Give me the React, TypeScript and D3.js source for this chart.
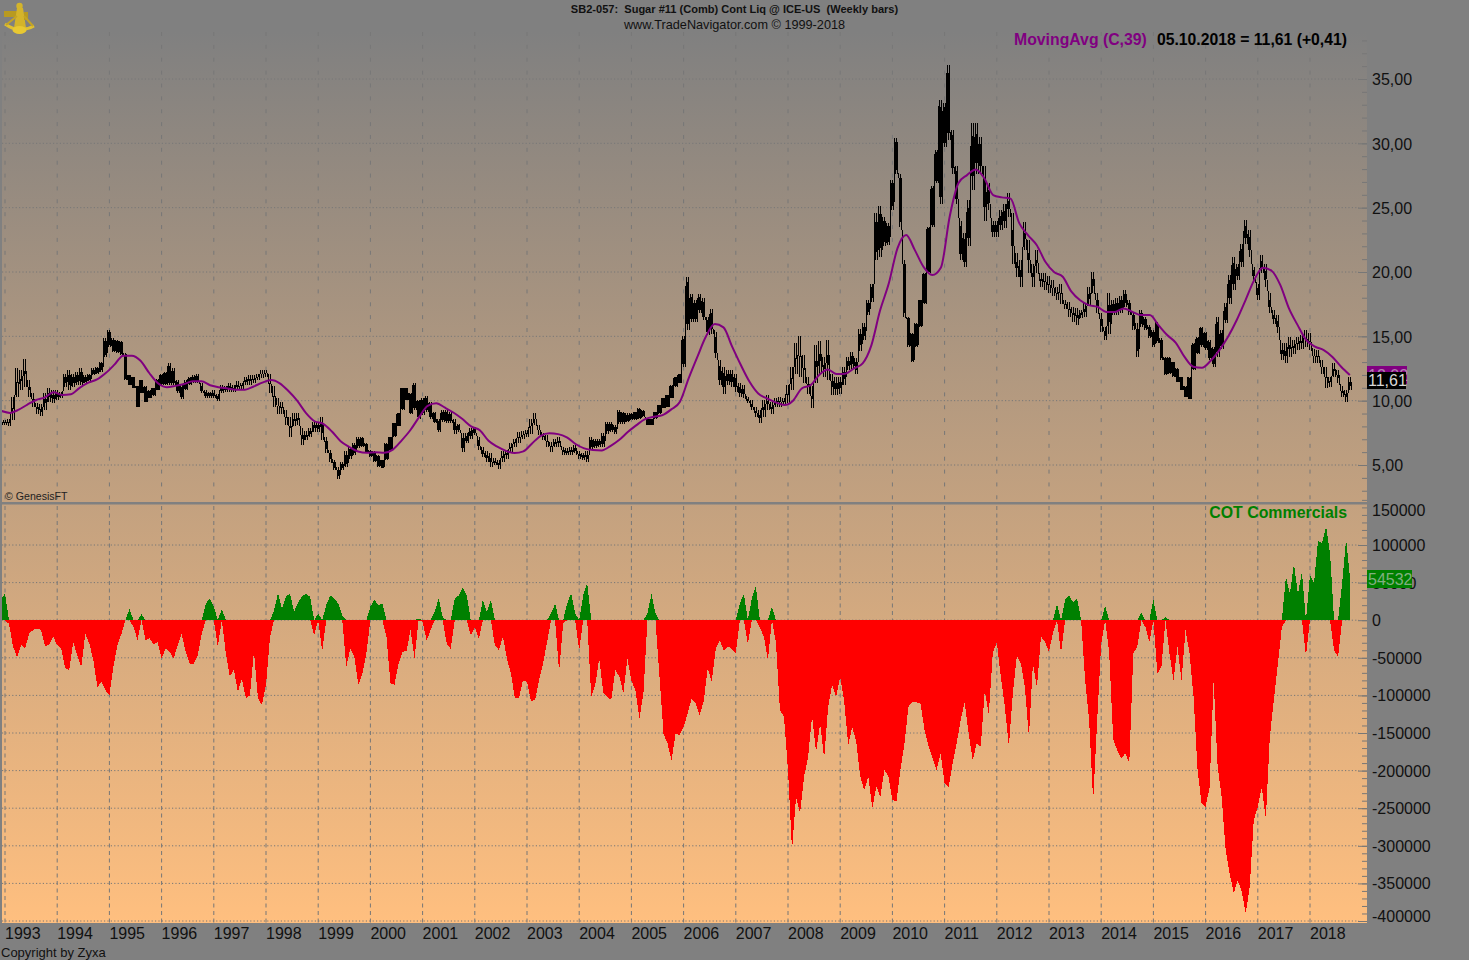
import React, { useEffect, useRef } from 'react'
import * as d3 from 'd3'

const yearLabels = d3.range(1993, 2019)
const priceTicks = [5, 10, 15, 20, 25, 30, 35]
const priceMinorTicks = d3.range(3, 39)
const cotTicks = [150000, 100000, 50000, 0, -50000, -100000, -150000, -200000, -250000, -300000, -350000, -400000]
const cotMinorTicks = d3.range(-400000, 170000, 10000)

// one sample every 4 weeks, first one a bit before jan 1993
const sampleStart = 1992.923
const samplesPerYear = 13

const priceHigh = [
    8.5, 8.5, 8.6, 10.3, 12.5, 12.4, 13.2, 11.6, 10.6, 9.8, 9.7, 10.6, 11.0, 10.8,
    10.8, 10.7, 12.1, 12.4, 12.1, 12.25, 12.5, 12.0, 12.1, 12.5, 12.65, 13.0, 14.85,
    15.5, 14.85, 14.7, 14.6, 13.7, 12.0, 11.85, 11.1, 11.6, 11.1, 10.8, 11.0, 11.7,
    12.1, 12.25, 12.9, 12.5, 11.6, 11.2, 11.6, 11.85, 12.0, 12.1, 11.35, 10.8, 10.7,
    10.8, 10.55, 11.2, 11.1, 11.35, 11.2, 11.5, 11.35, 11.85, 12.0, 12.0, 12.1, 12.4,
    12.4, 12.1, 11.1, 10.2, 9.9, 9.3, 8.75, 9.0, 9.0, 7.85, 7.6, 7.85, 8.35,
    8.35, 8.75, 7.2, 6.15, 5.4, 4.85, 5.25, 6.05, 6.4, 6.7, 7.2, 7.2, 6.7,
    6.15, 6.05, 5.8, 5.4, 6.7, 7.2, 8.25, 9.0, 11.0, 11.0, 10.6, 11.35, 10.05,
    10.2, 10.35, 9.9, 9.15, 8.6, 9.3, 9.3, 9.15, 8.6, 8.2, 7.45, 7.45, 7.85,
    7.95, 7.2, 6.4, 6.05, 5.9, 5.5, 5.4, 6.05, 6.2, 6.7, 7.05, 7.6, 7.6,
    7.7, 8.6, 9.0, 8.1, 7.45, 7.3, 6.8, 7.05, 7.2, 6.4, 6.3, 6.4, 6.55,
    6.05, 5.9, 6.05, 7.2, 7.05, 7.05, 7.45, 8.35, 8.35, 8.1, 9.25, 9.15, 9.0,
    9.0, 9.15, 9.4, 9.25, 8.6, 8.6, 9.15, 9.65, 10.2, 10.45, 11.2, 11.85, 12.1,
    15.0, 19.6, 18.3, 17.8, 18.3, 17.95, 16.5, 17.15, 15.35, 13.15, 12.65, 12.4, 12.4,
    12.1, 11.35, 11.2, 10.3, 10.05, 9.5, 9.25, 10.05, 10.45, 9.9, 10.2, 10.3, 10.2,
    11.2, 12.65, 14.45, 15.0, 13.55, 11.85, 11.1, 14.3, 14.6, 13.4, 14.7, 12.1, 11.85,
    11.85, 12.65, 13.4, 13.8, 13.3, 15.6, 16.0, 17.8, 19.1, 24.55, 25.1, 24.3, 23.8,
    27.15, 30.4, 27.65, 20.9, 16.5, 15.25, 16.0, 17.8, 19.9, 23.5, 26.65, 29.5, 33.4,
    33.1, 36.1, 31.0, 28.2, 24.0, 23.0, 25.6, 31.55, 31.55, 30.5, 28.2, 26.9, 24.0,
    24.0, 24.8, 25.3, 26.1, 24.55, 21.45, 20.9, 23.9, 22.5, 20.65, 21.7, 19.9, 19.9,
    19.65, 19.4, 18.85, 19.1, 17.8, 17.7, 17.3, 17.2, 17.05, 17.55, 18.85, 20.0, 18.35,
    16.8, 15.75, 18.35, 17.8, 17.95, 18.1, 18.6, 17.8, 16.9, 16.0, 17.05, 16.5, 15.9,
    15.5, 16.15, 14.85, 13.4, 13.4, 13.0, 12.5, 11.85, 11.1, 11.85, 14.45, 14.95, 15.75,
    15.35, 14.7, 14.2, 16.5, 15.5, 17.55, 19.75, 21.2, 20.65, 22.2, 24.05, 23.25, 20.4,
    19.1, 21.3, 20.65, 18.35, 17.05, 16.65, 14.45, 14.45, 14.95, 14.7, 14.95, 15.1, 15.5,
    15.25, 14.05, 13.95, 13.15, 12.65, 11.85, 12.9, 12.4, 11.1, 10.85, 11.85,
]

const priceLow = [
    8.1, 8.1, 8.0, 8.5, 10.3, 10.8, 11.1, 10.3, 9.5, 9.0, 8.8, 9.3, 9.9, 9.8,
    10.05, 10.2, 11.1, 10.8, 11.1, 11.2, 11.2, 11.35, 11.5, 12.0, 12.1, 12.25, 13.4,
    14.2, 13.8, 13.7, 13.55, 11.6, 11.2, 11.0, 9.5, 10.6, 9.9, 10.2, 10.4, 10.8,
    11.2, 11.2, 11.2, 11.2, 10.6, 10.1, 10.8, 11.2, 11.35, 11.35, 10.6, 10.2, 10.2,
    10.2, 10.0, 10.6, 10.7, 10.7, 10.7, 10.8, 10.95, 11.2, 11.2, 11.35, 11.6, 11.75,
    11.85, 10.6, 9.5, 9.0, 9.0, 8.1, 7.15, 8.0, 8.1, 6.55, 6.95, 7.2, 7.6,
    7.6, 6.95, 5.9, 5.25, 4.6, 3.9, 4.6, 4.85, 5.5, 5.8, 6.3, 6.4, 5.9,
    5.65, 5.25, 4.85, 4.75, 5.4, 6.15, 7.2, 8.0, 9.3, 10.05, 9.0, 9.3, 8.6,
    8.9, 9.15, 8.6, 8.25, 7.6, 8.35, 8.25, 8.25, 7.45, 7.6, 6.0, 6.7, 7.05,
    7.3, 6.15, 5.65, 5.25, 4.85, 5.0, 4.7, 5.25, 5.5, 6.05, 6.4, 6.7, 7.05,
    7.2, 7.45, 8.1, 7.3, 6.95, 6.4, 6.05, 6.4, 6.4, 5.75, 5.75, 5.75, 5.9,
    5.5, 5.4, 5.2, 6.15, 6.3, 6.4, 6.4, 7.45, 7.6, 7.45, 8.2, 8.2, 8.35,
    8.5, 8.5, 8.6, 8.75, 8.1, 8.1, 8.6, 9.0, 9.4, 9.5, 10.2, 11.1, 11.35,
    12.65, 15.5, 16.1, 16.1, 16.8, 16.25, 15.1, 15.2, 13.3, 11.2, 10.55, 11.2, 11.1,
    10.7, 10.3, 10.2, 9.8, 9.25, 8.75, 8.3, 8.75, 9.25, 9.0, 9.5, 9.5, 9.65,
    9.8, 10.8, 12.1, 11.85, 11.35, 10.55, 9.4, 11.35, 12.1, 11.85, 11.6, 10.45, 10.45,
    10.55, 11.2, 12.4, 12.5, 12.1, 13.9, 14.7, 16.65, 17.7, 20.9, 21.2, 22.0, 22.1,
    24.8, 27.65, 23.5, 16.5, 14.2, 13.0, 14.2, 15.75, 17.55, 19.9, 23.5, 26.9, 25.3,
    29.75, 30.25, 27.65, 25.3, 20.9, 20.4, 22.0, 26.4, 27.65, 27.65, 24.0, 24.8, 22.75,
    22.75, 23.25, 23.4, 24.3, 20.65, 19.65, 18.85, 21.7, 19.9, 18.85, 19.9, 18.85, 18.6,
    18.35, 18.1, 17.8, 17.55, 17.15, 16.5, 16.15, 15.9, 16.4, 16.5, 17.4, 18.35, 16.8,
    15.35, 14.7, 15.2, 16.65, 16.65, 16.8, 17.3, 16.65, 15.5, 13.4, 15.75, 15.5, 14.85,
    14.2, 14.45, 13.15, 12.0, 12.1, 11.85, 11.45, 10.8, 10.3, 10.1, 12.4, 13.65, 14.2,
    13.95, 13.15, 12.65, 13.4, 14.05, 16.0, 17.55, 18.6, 19.4, 20.4, 22.2, 21.2, 19.4,
    17.8, 19.9, 18.85, 16.8, 16.0, 15.25, 13.15, 12.9, 13.4, 13.65, 13.95, 14.05, 14.2,
    13.95, 12.9, 12.9, 12.1, 10.95, 11.1, 11.85, 11.35, 10.3, 9.9, 10.8,
]

// MovingAvg(C,39), one value every 2 months
const maStart = 1992.93
const maPerYear = 6
const movingAvg = [
    9.2, 9.05, 9.3, 9.7, 10.05, 10.25, 10.65, 10.45, 10.5, 11.0, 11.4, 11.65, 12.15, 12.8, 13.5, 13.5,
    13.1, 12.15, 11.35, 11.05, 11.15, 11.3, 11.5, 11.5, 11.2, 11.05, 10.95, 10.85, 10.85, 11.1, 11.4, 11.6,
    11.35, 10.75, 10.0, 9.05, 8.4, 8.2, 7.6, 6.85, 6.4, 6.05, 5.95, 6.0, 5.95, 6.2, 6.9, 7.7,
    8.7, 9.6, 9.8, 9.45, 9.06, 8.57, 8.0, 7.7, 6.88, 6.42, 6.1, 5.93, 6.06, 6.68, 7.27, 7.46,
    7.4, 7.15, 6.63, 6.29, 6.16, 6.13, 6.47, 6.94, 7.56, 8.1, 8.57, 8.75, 8.88, 9.32, 9.92, 11.73,
    13.4, 15.0, 15.95, 15.7, 14.2, 12.77, 11.47, 10.56, 10.17, 9.87, 9.66, 10.0, 10.95, 11.2, 12.0, 12.43,
    12.07, 12.1, 12.5, 12.9, 14.3, 17.0, 19.1, 21.83, 22.87, 21.7, 20.4, 19.76, 20.35, 24.3, 26.9, 27.53,
    27.97, 27.27, 25.98, 25.8, 25.7, 23.8, 22.87, 22.1, 20.8, 20.0, 19.63, 18.47, 17.8, 17.43, 17.3, 16.9,
    16.9, 17.17, 16.9, 16.65, 16.65, 15.87, 15.1, 14.5, 13.4, 12.64, 12.56, 13.1, 13.93, 14.97, 16.27, 17.8,
    19.37, 20.33, 20.1, 19.0, 17.17, 15.87, 14.7, 14.2, 13.93, 13.4, 12.64, 11.99,
]

// COT commercials net position, in thousands of contracts
const cotThousands = [
    29, 35, -5, -35, -49, -33, -38, -18, -13, -11, -13, -35, -32, -22,
    -33, -38, -64, -66, -29, -47, -62, -18, -31, -53, -89, -82, -93,
    -100, -62, -33, -18, 0, 15, -9, -26, 8, -27, -24, -32, -29,
    -51, -38, -42, -51, -33, -18, -42, -58, -58, -47, -18, 22, 29,
    18, -35, 15, -44, -75, -66, -95, -78, -104, -100, -42, -104, -113,
    -86, -22, 13, 36, 15, 32, 35, 11, 24, 32, 35, 31, -20,
    9, -41, 20, 33, 29, 22, 6, -62, -38, -49, -86, -71, -44,
    18, 27, 20, 22, -22, -84, -86, -58, -42, -41, -13, -51, 2,
    -2, -27, -13, 11, 29, 4, -31, -38, 29, 33, 43, 33, -20,
    -9, -25, 27, 11, 27, -33, -40, -22, -51, -71, -104, -104, -80,
    -82, -108, -106, -80, -58, -29, 9, 22, -69, -4, 22, 36, 9,
    -40, 33, 49, -102, -86, -51, -97, -102, -106, -66, -75, -97, -51,
    -80, -93, -131, -97, 9, 35, 9, -75, -151, -164, -186, -151, -153,
    -142, -124, -104, -111, -126, -108, -64, -82, -38, -27, -40, -35, -38,
    -44, 22, 35, -32, 29, 45, -10, -22, -53, 18, -30, -120, -128,
    -199, -306, -235, -257, -208, -182, -128, -175, -137, -184, -115, -86, -102,
    -75, -108, -166, -142, -162, -208, -226, -208, -250, -221, -235, -199, -208,
    -239, -241, -199, -164, -115, -109, -109, -111, -146, -168, -184, -199, -177,
    -217, -222, -190, -164, -133, -109, -151, -186, -164, -168, -93, -126, -44,
    -29, -75, -115, -168, -97, -47, -58, -89, -155, -58, -89, -22, -29,
    -42, -16, 22, -44, 27, 33, 24, 29, 0, -80, -133, -241, -133,
    -31, 19, -44, -159, -173, -184, -177, -190, -44, -35, 10, -9, -29,
    27, -71, -62, 4, -44, -80, -35, -80, -13, -44, -102, -199, -244,
    -248, -222, -80, -195, -235, -306, -337, -363, -346, -361, -390, -354, -266,
    -248, -222, -264, -155, -106, -58, -9, 58, 35, 75, 35, 64, -48,
    60, 49, 106, 102, 125, 89, -40, -49, 49, 108, 54.5,
]

const W = 1469
const H = 960
const PLOT_LEFT = 2
const PLOT_RIGHT = 1367
const PLOT_TOP = 32
const PANEL_SPLIT = 502
const PLOT_BOTTOM = 923
const LABEL_FONT = '"Liberation Sans", Arial, sans-serif'

const commaFormat = (v: number) => d3.format('.2f')(v).replace('.', ',')

export default function App() {
    const svgRef = useRef<SVGSVGElement | null>(null)

    useEffect(() => {
        const svg = d3.select(svgRef.current)
        svg.selectAll('*').remove()

        const x = d3.scaleLinear().domain([1993, 2018]).range([5, 1310])
        const yPrice = d3.scaleLinear().domain([5, 35]).range([465, 79])
        const yCot = d3.scaleLinear().domain([-400000, 100000]).range([921, 545])

        const sampleX = (_: number, i: number) => x(sampleStart + i / samplesPerYear)
        const maX = (_: number, i: number) => x(maStart + i / maPerYear)

        const defs = svg.append('defs')
        const grad = defs
            .append('linearGradient')
            .attr('id', 'plotBg')
            .attr('x1', 0)
            .attr('x2', 0)
            .attr('y1', 0)
            .attr('y2', 1)
        grad.append('stop').attr('offset', '0%').attr('stop-color', '#808080')
        grad.append('stop').attr('offset', '100%').attr('stop-color', '#ffbf7f')
        defs.append('clipPath')
            .attr('id', 'plotClip')
            .append('rect')
            .attr('x', PLOT_LEFT)
            .attr('y', PLOT_TOP)
            .attr('width', PLOT_RIGHT - PLOT_LEFT)
            .attr('height', PLOT_BOTTOM - PLOT_TOP)

        // page and plot background
        svg.append('rect').attr('width', W).attr('height', H).attr('fill', '#808080')
        svg.append('rect')
            .attr('x', PLOT_LEFT)
            .attr('y', PLOT_TOP)
            .attr('width', PLOT_RIGHT - PLOT_LEFT)
            .attr('height', PLOT_BOTTOM - PLOT_TOP)
            .attr('fill', 'url(#plotBg)')

        // grid
        const grid = svg.append('g').attr('fill', 'none')
        grid.selectAll('line.price')
            .data(priceTicks)
            .join('line')
            .attr('x1', PLOT_LEFT)
            .attr('x2', 1359)
            .attr('y1', (d) => yPrice(d))
            .attr('y2', (d) => yPrice(d))
            .attr('stroke', '#777')
            .attr('stroke-dasharray', '1.2 2.2')
        grid.selectAll('line.cot')
            .data(cotTicks.slice(1))
            .join('line')
            .attr('x1', PLOT_LEFT)
            .attr('x2', 1359)
            .attr('y1', (d) => yCot(d))
            .attr('y2', (d) => yCot(d))
            .attr('stroke', '#777')
            .attr('stroke-dasharray', '1.2 2.2')
        yearLabels.forEach((yr) => {
            grid.append('line')
                .attr('x1', x(yr))
                .attr('x2', x(yr))
                .attr('y1', PLOT_TOP)
                .attr('y2', PANEL_SPLIT)
                .attr('stroke', '#777')
                .attr('stroke-dasharray', '4 8.87')
            grid.append('line')
                .attr('x1', x(yr))
                .attr('x2', x(yr))
                .attr('y1', PANEL_SPLIT + 4)
                .attr('y2', PLOT_BOTTOM)
                .attr('stroke', '#777')
                .attr('stroke-dasharray', '4 3.5')
        })

        const plot = svg.append('g').attr('clip-path', 'url(#plotClip)')

        // price range drawn as a scribble between high and low of each sample
        const rangePoints = priceHigh.flatMap((hi, i) => {
            const cx = sampleX(hi, i)
            return [
                [cx - 1.5, yPrice(hi)],
                [cx - 0.5, yPrice(priceLow[i])],
                [cx + 0.5, yPrice(hi)],
                [cx + 1.5, yPrice(priceLow[i])],
            ]
        }) as [number, number][]
        plot.append('path')
            .attr('d', d3.line()(rangePoints))
            .attr('fill', 'none')
            .attr('stroke', '#000')
            .attr('stroke-width', 1)
            .attr('shape-rendering', 'crispEdges')

        // moving average
        const maLine = d3
            .line<number>()
            .x(maX)
            .y((d) => yPrice(d))
            .curve(d3.curveMonotoneX)
        plot.append('path')
            .attr('d', maLine(movingAvg))
            .attr('fill', 'none')
            .attr('stroke', '#800080')
            .attr('stroke-width', 2)

        // COT histogram, red below zero and green above. crisp edges give the bar stairs
        const cotValues = cotThousands.map((v) => v * 1000)
        const cotArea = d3
            .area<number>()
            .x(sampleX)
            .y0(yCot(0))
            .y1((d) => yCot(d))
        plot.append('path')
            .attr('d', cotArea(cotValues.map((v) => Math.min(v, 0))))
            .attr('fill', '#ff0000')
            .attr('shape-rendering', 'crispEdges')
        plot.append('path')
            .attr('d', cotArea(cotValues.map((v) => Math.max(v, 0))))
            .attr('fill', '#008000')
            .attr('shape-rendering', 'crispEdges')

        // panel separator
        svg.append('rect')
            .attr('x', 0)
            .attr('y', PANEL_SPLIT)
            .attr('width', PLOT_RIGHT)
            .attr('height', 2.5)
            .attr('fill', '#808080')

        // right side tick marks
        const tickGroup = (scale: d3.ScaleLinear<number, number>, values: number[], size: number) => {
            const g = svg
                .append('g')
                .attr('transform', `translate(${PLOT_RIGHT},0)`)
                .call(d3.axisLeft(scale).tickValues(values).tickSize(size).tickFormat(() => ''))
            g.select('.domain').remove()
            g.selectAll('line').attr('stroke', '#777')
        }
        tickGroup(yPrice, priceMinorTicks, 5)
        tickGroup(yPrice, priceTicks, 9)
        tickGroup(yCot, cotMinorTicks, 5)
        tickGroup(yCot, cotTicks.slice(1), 9)

        // axis labels
        const priceAxis = svg
            .append('g')
            .attr('transform', `translate(${PLOT_RIGHT},0)`)
            .call(d3.axisRight(yPrice).tickValues(priceTicks).tickSize(0).tickPadding(5).tickFormat((d) => commaFormat(+d)))
        const cotAxis = svg
            .append('g')
            .attr('transform', `translate(${PLOT_RIGHT},0)`)
            .call(d3.axisRight(yCot).tickValues(cotTicks).tickSize(0).tickPadding(5).tickFormat((d) => String(d)))
        // first and last COT labels are pushed inside the panel
        cotAxis
            .selectAll<SVGGElement, number>('.tick')
            .attr('transform', (d) => `translate(0,${Math.min(916, Math.max(510, yCot(d)))})`)
        const yearAxis = svg
            .append('g')
            .attr('transform', `translate(-0.5,${PLOT_BOTTOM})`)
            .call(d3.axisBottom(x).tickValues(yearLabels).tickSize(0).tickPadding(4.6).tickFormat((d) => String(d)))
        yearAxis.selectAll('text').attr('text-anchor', 'start')
        ;[priceAxis, cotAxis, yearAxis].forEach((g) => {
            g.select('.domain').remove()
            g.selectAll('text').attr('font-family', LABEL_FONT).attr('font-size', 16).attr('fill', '#111')
        })
        priceAxis.selectAll('text').attr('dy', '0.37em')
        cotAxis.selectAll('text').attr('dy', '0.38em')

        // value flags on the axis
        const flag = (y: number, w: number, h: number, fill: string, label: string, color: string) => {
            svg.append('rect').attr('x', PLOT_RIGHT).attr('y', y).attr('width', w).attr('height', h).attr('fill', fill)
            svg.append('text')
                .attr('x', PLOT_RIGHT + 1)
                .attr('y', y + h / 2 + 5.5)
                .attr('font-family', LABEL_FONT)
                .attr('font-size', 16)
                .attr('fill', color)
                .text(label)
        }
        flag(366, 40, 18, '#800080', '12,02', '#b080b0')
        flag(372, 39, 17, '#000000', '11,61', '#d8d8d8')
        flag(570, 45, 18, '#008000', '54532', '#80b080')

        // texts
        const text = (tx: number, ty: number, s: string, size: number, fill: string, bold: boolean, anchor = 'start') =>
            svg
                .append('text')
                .attr('x', tx)
                .attr('y', ty)
                .attr('font-family', LABEL_FONT)
                .attr('font-size', size)
                .attr('font-weight', bold ? 'bold' : 'normal')
                .attr('fill', fill)
                .attr('text-anchor', anchor)
                .attr('xml:space', 'preserve')
                .text(s)
        text(734.5, 13, 'SB2-057:  Sugar #11 (Comb) Cont Liq @ ICE-US  (Weekly bars)', 11.05, '#111', true, 'middle')
        text(734.5, 29, 'www.TradeNavigator.com © 1999-2018', 12.7, '#111', false, 'middle')
        text(1014, 45, 'MovingAvg (C,39)', 15.8, '#800080', true)
        text(1347, 45, '05.10.2018 = 11,61 (+0,41)', 15.75, '#000', true, 'end')
        text(1347, 517.5, 'COT Commercials', 15.9, '#008000', true, 'end')
        text(5, 500, '© GenesisFT', 10.6, '#222', false)
        text(1, 957, 'Copyright by Zyxa', 13, '#111', false)

        // sextant logo
        const logo = svg.append('g').attr('fill', '#d4b42a')
        logo.append('rect').attr('x', 4).attr('y', 11).attr('width', 13).attr('height', 6).attr('fill', '#b89a20')
        logo.append('circle').attr('cx', 19.5).attr('cy', 6).attr('r', 3.2)
        logo.append('path').attr('d', 'M17,8 L23,8 L26,28 L14,28 Z')
        logo.append('rect').attr('x', 24).attr('y', 12).attr('width', 4).attr('height', 8).attr('fill', '#b89a20')
        logo.append('path')
            .attr('d', 'M5,24 Q19,34 34,26')
            .attr('fill', 'none')
            .attr('stroke', '#e0c030')
            .attr('stroke-width', 3)
        logo.append('path').attr('d', 'M17,16 L6,25 M24,16 L33,26').attr('fill', 'none').attr('stroke', '#c4a424').attr('stroke-width', 2)
        logo.append('ellipse').attr('cx', 19.5).attr('cy', 30).attr('rx', 7).attr('ry', 4).attr('fill', '#e8c832')
    }, [])

    return <svg ref={svgRef} width={W} height={H} style={{ position: 'absolute', left: 0, top: 0, display: 'block' }} />
}
